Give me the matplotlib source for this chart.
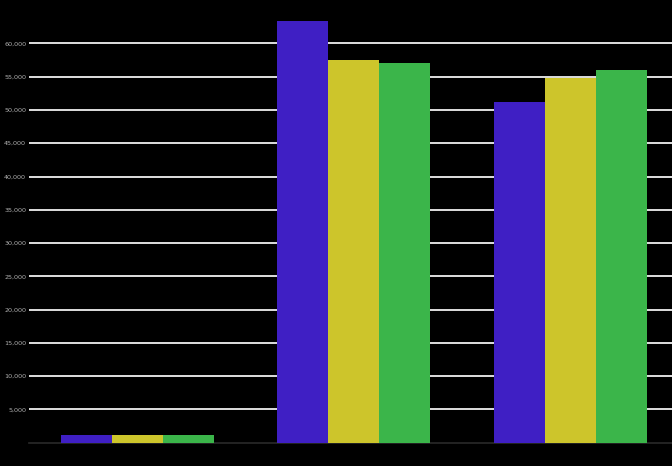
import matplotlib
matplotlib.use("Agg")
import matplotlib.pyplot as plt
import numpy as np
from matplotlib.ticker import FuncFormatter

categories = ["A", "B", "C"]
series_names = ["Series 1", "Series 2", "Series 3"]
series1 = [1150, 63400, 51200]
series2 = [1150, 57500, 54800]
series3 = [1150, 57050, 56000]
colors = ["#3f1fc4", "#cdc52b", "#3bb54a"]
yticks = [5000, 10000, 15000, 20000, 25000, 30000, 35000, 40000, 45000, 50000, 55000, 60000]

fig = plt.figure(figsize=(6.72, 4.66), dpi=100, facecolor="black")
ax = fig.add_axes([29 / 672, 23.3 / 466, (672 - 29) / 672, 442.7 / 466], facecolor="black")

x = np.arange(len(categories))
w = 51 / 216.5
for i, (vals, c) in enumerate(zip([series1, series2, series3], colors)):
    ax.bar(x + (i - 1) * w, vals, width=w, color=c, zorder=3, linewidth=0, label=series_names[i])

ax.set_xlim(-0.5, 2.469)
ax.set_ylim(0, 66530)
ax.set_yticks(yticks)
ax.yaxis.set_major_formatter(FuncFormatter(lambda v, p: f"{int(v):,}"))
ax.tick_params(axis="y", length=0, pad=2, labelsize=4.6, labelcolor="#b0b0b0")
ax.set_xticks([])
ax.grid(axis="y", color="#f0f0f0", linewidth=1.3, zorder=1)
for s in ["top", "right", "left"]:
    ax.spines[s].set_visible(False)
ax.spines["bottom"].set_color("#2a2a2a")
ax.spines["bottom"].set_linewidth(1.2)

fig.savefig("out.png", dpi=100, facecolor="black")
